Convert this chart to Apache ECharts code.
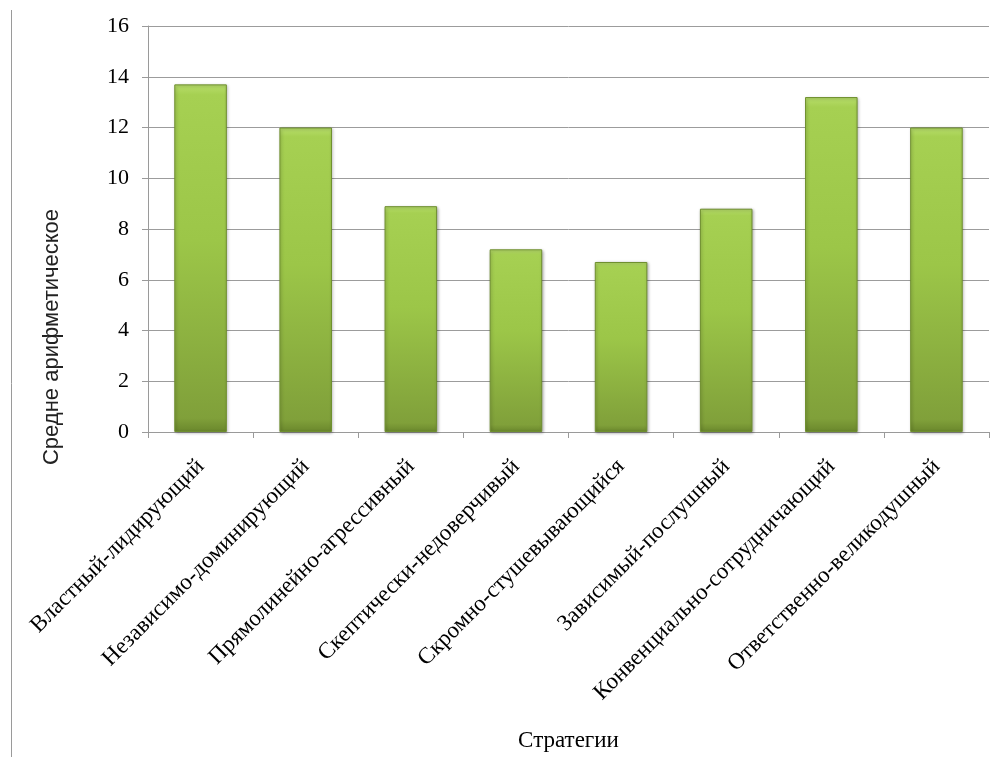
<!DOCTYPE html>
<html><head><meta charset="utf-8">
<script src="https://cdn.jsdelivr.net/npm/echarts@6/dist/echarts.min.js"></script>
<style>html,body{margin:0;padding:0;background:#fff}#c{width:998px;height:757px}</style>
</head><body><div id="c"></div>
<script>
const categories = ["Властный-лидирующий","Независимо-доминирующий","Прямолинейно-агрессивный","Скептически-недоверчивый","Скромно-стушевывающийся","Зависимый-послушный","Конвенциально-сотрудничающий","Ответственно-великодушный"];
const values = [13.7, 12.0, 8.9, 7.2, 6.7, 8.8, 13.2, 12.0];
const yTicks = [0, 2, 4, 6, 8, 10, 12, 14, 16];
const xTitle = "Стратегии";
const yTitle = "Средне арифметическое";

const chart = echarts.init(document.getElementById('c'));
const serif = '"Liberation Serif", "Times New Roman", serif';
const sans = '"Liberation Sans", Arial, sans-serif';
chart.setOption({
  animation: false,
  grid: { left: 148, width: 841, top: 26, height: 410 },
  xAxis: {
    type: 'category', data: categories,
    name: xTitle, nameLocation: 'middle', nameGap: 297,
    nameTextStyle: { fontFamily: serif, fontSize: 23, color: '#000' },
    axisLine: { lineStyle: { color: '#9a9a9a', width: 1 } },
    axisTick: { show: true, length: 6, lineStyle: { color: '#9a9a9a' } },
    axisLabel: { rotate: 45, fontFamily: serif, fontSize: 23, color: '#000', margin: 31, interval: 0 }
  },
  yAxis: {
    type: 'value', min: yTicks[0], max: yTicks[yTicks.length-1], interval: 2,
    axisLine: { show: true, lineStyle: { color: '#9a9a9a', width: 1 } },
    axisTick: { show: true, length: 6, lineStyle: { color: '#9a9a9a' } },
    splitLine: { lineStyle: { color: '#9c9c9c', width: 1 } },
    axisLabel: { fontFamily: serif, fontSize: 22, color: '#000', margin: 19 }
  },
  graphic: [
    { type: 'line', shape: { x1: 11.5, y1: 10, x2: 11.5, y2: 757 }, style: { stroke: '#9a9a9a', lineWidth: 1 } },
    { type: 'text', x: 52, y: 337, rotation: Math.PI/2,
      style: { text: yTitle, font: '22px ' + sans, fill: '#222', align: 'center', verticalAlign: 'middle' } }
  ],
  series: [{
    type: 'bar', data: values, barWidth: '50%',
    itemStyle: {
      color: new echarts.graphic.LinearGradient(0, 0, 0, 1, [
        { offset: 0, color: '#b8de6c' },
        { offset: 0.03, color: '#a6d052' },
        { offset: 0.45, color: '#9cc648' },
        { offset: 0.96, color: '#80a03a' },
        { offset: 1, color: '#6a872c' }
      ]),
      borderColor: '#6f8f2f', borderWidth: 1,
      shadowColor: 'rgba(0,0,0,0.3)', shadowBlur: 3, shadowOffsetX: 1, shadowOffsetY: 1
    }
  }]
});
</script></body></html>
